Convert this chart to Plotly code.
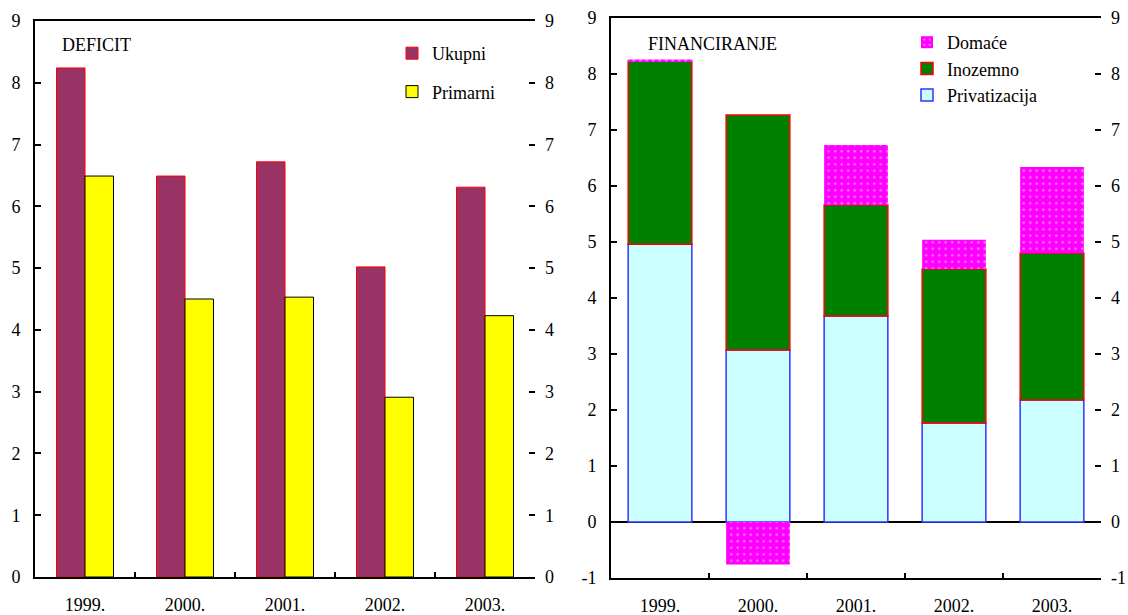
import plotly.graph_objects as go

years = ["1999.", "2000.", "2001.", "2002.", "2003."]

# Deficit panel
ukupni = [8.24, 6.49, 6.72, 5.02, 6.31]
primarni = [6.49, 4.50, 4.53, 2.91, 4.23]

# Financing panel
privatizacija = [4.96, 3.07, 3.68, 1.77, 2.18]
inozemno = [3.27, 4.20, 1.98, 2.75, 2.62]
domace = [0.03, -0.76, 1.07, 0.52, 1.54]

# value-axis ticks of the financing panel (plain hyphen for the minus sign)
fin_tickvals = [-1, 0, 1, 2, 3, 4, 5, 6, 7, 8, 9]
fin_ticktext = ["-1", "0", "1", "2", "3", "4", "5", "6", "7", "8", "9"]

FONT = "Liberation Serif"
FS = 18
W, H = 1128, 615

# stacking bases for the financing panel (negative values hang from zero)
base_inoz = list(privatizacija)
base_dom = [p + i if d >= 0 else 0 for p, i, d in zip(privatizacija, inozemno, domace)]

fig = go.Figure()

fig.add_trace(go.Bar(
    x=years, y=ukupni, name="Ukupni", xaxis="x", yaxis="y",
    marker=dict(color="#993366", line=dict(color="#ff0000", width=1)),
    legend="legend", legendgroup="a",
))
fig.add_trace(go.Bar(
    x=years, y=primarni, name="Primarni", xaxis="x", yaxis="y",
    marker=dict(color="#ffff00", line=dict(color="#000000", width=1)),
    legend="legend", legendgroup="b",
))

STACK_W = 0.65
fig.add_trace(go.Bar(
    x=years, y=privatizacija, name="Privatizacija", xaxis="x2", yaxis="y2",
    offsetgroup="fin", width=STACK_W, legendrank=3,
    marker=dict(color="#ccffff", line=dict(color="#3333ff", width=1.5)),
    legend="legend2",
))
fig.add_trace(go.Bar(
    x=years, y=inozemno, base=base_inoz, name="Inozemno", xaxis="x2", yaxis="y2",
    offsetgroup="fin", width=STACK_W, legendrank=2,
    marker=dict(color="#008000", line=dict(color="#ff0000", width=1.5)),
    legend="legend2",
))
fig.add_trace(go.Bar(
    x=years, y=domace, base=base_dom, name="Domaće", xaxis="x2", yaxis="y2",
    offsetgroup="fin", width=STACK_W, legendrank=1,
    marker=dict(color="#ff00ff", line=dict(color="#ff00ff", width=0),
                pattern=dict(shape=".", bgcolor="#ff00ff", fgcolor="#ffffff",
                             size=6.5, solidity=0.12)),
    legend="legend2",
))

# helper traces so the right-hand value axes are drawn
fig.add_trace(go.Scatter(x=years, y=[None] * 5, xaxis="x", yaxis="y3",
                         showlegend=False, hoverinfo="skip"))
fig.add_trace(go.Scatter(x=years, y=[None] * 5, xaxis="x2", yaxis="y4",
                         showlegend=False, hoverinfo="skip"))


def px_x(v):
    return v / W


def px_y(v):
    return 1 - v / H


tickfont = dict(family=FONT, size=FS, color="#000000")

xcommon = dict(
    type="category", showline=True, linecolor="#000000", linewidth=2,
    mirror=True, ticks="inside", ticklen=5, tickwidth=1.5, tickcolor="#000000",
    tickson="boundaries", showgrid=False, zeroline=False, automargin=False,
    tickfont=tickfont, ticklabelstandoff=10,
)
ycommon = dict(
    showline=True, linecolor="#000000", linewidth=2, ticks="inside",
    ticklen=6, tickwidth=1.5, tickcolor="#000000", showgrid=False,
    tickfont=tickfont, ticklabelstandoff=9, automargin=False,
)
fin_ticks = dict(tickmode="array", tickvals=fin_tickvals, ticktext=fin_ticktext)

dom_x1 = [px_x(35), px_x(535)]
dom_x2 = [px_x(611), px_x(1101)]
dom_y1 = [px_y(577), px_y(21)]
dom_y2 = [px_y(578), px_y(18)]

fig.update_layout(
    width=W, height=H,
    margin=dict(l=0, r=0, t=0, b=0, pad=0, autoexpand=False),
    paper_bgcolor="#ffffff", plot_bgcolor="#ffffff",
    barmode="group", bargap=0.43, bargroupgap=0,
    showlegend=True,
    xaxis=dict(xcommon, domain=dom_x1, anchor="y"),
    yaxis=dict(ycommon, domain=dom_y1, range=[0, 9], dtick=1, anchor="x",
               zeroline=False),
    yaxis3=dict(ycommon, range=[0, 9], dtick=1, overlaying="y", side="right",
                anchor="x", showline=False),
    xaxis2=dict(xcommon, domain=dom_x2, anchor="y2"),
    yaxis2=dict(ycommon, **fin_ticks, domain=dom_y2, range=[-1, 9], anchor="x2",
                zeroline=True, zerolinecolor="#000000", zerolinewidth=2),
    yaxis4=dict(ycommon, **fin_ticks, range=[-1, 9], overlaying="y2", side="right",
                anchor="x2", showline=False, zeroline=False),
    font=dict(family=FONT, size=FS, color="#000000"),
    legend=dict(
        x=px_x(392), y=px_y(35), xanchor="left", yanchor="top",
        bgcolor="rgba(0,0,0,0)", font=dict(family=FONT, size=FS),
        traceorder="grouped", tracegroupgap=12, itemwidth=30,
    ),
    legend2=dict(
        x=px_x(907), y=px_y(24), xanchor="left", yanchor="top",
        bgcolor="rgba(0,0,0,0)", font=dict(family=FONT, size=FS),
        traceorder="normal", itemwidth=30,
    ),
    annotations=[
        dict(text="DEFICIT", x=px_x(60), y=px_y(45), xref="paper", yref="paper",
             xanchor="left", yanchor="middle", showarrow=False,
             font=dict(family=FONT, size=FS)),
        dict(text="FINANCIRANJE", x=px_x(646), y=px_y(44), xref="paper", yref="paper",
             xanchor="left", yanchor="middle", showarrow=False,
             font=dict(family=FONT, size=FS)),
    ],
)

fig.write_html("out.html")
